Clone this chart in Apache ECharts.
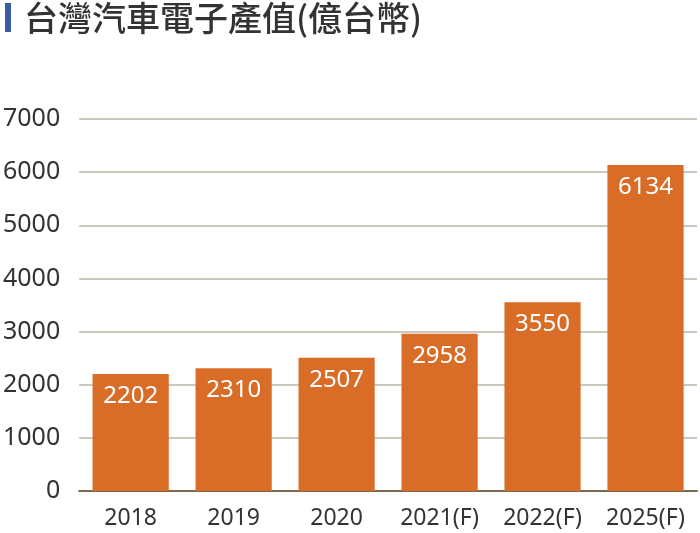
<!DOCTYPE html>
<html><head><meta charset="utf-8">
<script src="https://cdn.jsdelivr.net/npm/echarts@6/dist/echarts.min.js"></script>
<style>html,body{margin:0;padding:0;background:#fff}#c{width:700px;height:533px}</style>
</head><body><div id="c"></div>
<script>
const categories = ['2018','2019','2020','2021(F)','2022(F)','2025(F)'];
const values = [2202, 2310, 2507, 2958, 3550, 6134];
const yTicks = [0,1000,2000,3000,4000,5000,6000,7000];
const titleText = '台灣汽車電子產值(億台幣)';

const chart = echarts.init(document.getElementById('c'), null, {renderer:'canvas'});
chart.setOption({
  animation:false,
  backgroundColor:'#fff',
  title:{text:titleText,left:19,top:-4,textStyle:{fontFamily:'Noto Sans CJK TC',fontSize:34,fontWeight:500,color:'#333'}},
  graphic:[{type:'rect',z:100,shape:{x:5,y:3,width:6,height:29},style:{fill:'#3a5aa8'}}],
  grid:{left:77,right:3,top:119,bottom:42},
  xAxis:{type:'category',data:categories,
    axisLine:{lineStyle:{color:'#7a6a4c',width:2}},axisTick:{show:false},
    axisLabel:{interval:0,color:'#333',fontSize:23,fontFamily:'Noto Sans',margin:16}},
  yAxis:{type:'value',min:yTicks[0],max:yTicks[yTicks.length-1],interval:1000,
    axisLine:{show:false},axisTick:{show:false},
    splitLine:{lineStyle:{color:'#ccc8bd',width:2}},
    axisLabel:{color:'#333',fontSize:25,fontFamily:'Noto Sans',margin:19,formatter:v=>String(v)}},
  series:[{type:'bar',data:values,barWidth:'74%',
    itemStyle:{color:'#d96d27'},
    label:{show:true,position:'insideTop',distance:10,color:'#fff',fontSize:24,fontFamily:'Noto Sans'}}]
});
</script></body></html>
